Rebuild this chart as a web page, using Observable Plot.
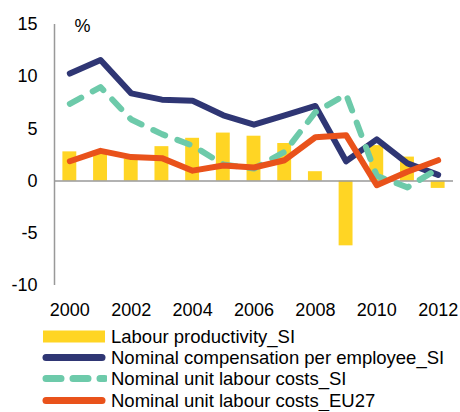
<!DOCTYPE html>
<html>
<head>
<meta charset="utf-8">
<script src="https://cdn.jsdelivr.net/npm/d3@7"></script>
<script src="https://cdn.jsdelivr.net/npm/@observablehq/plot@0.6"></script>
<style>
  html, body { margin: 0; padding: 0; background: #fff; }
  body { width: 460px; font-family: "Liberation Sans", Arial, sans-serif; color: #000; }
  #legend { margin-top: 4px; }
  .row { display: flex; align-items: center; height: 21.2px; }
  .row svg { margin-left: 41px; margin-right: 4px; flex: none; }
  .row span { font-size: 18.5px; line-height: 21px; white-space: nowrap; }
</style>
</head>
<body>
<div id="chart"></div>
<div id="legend"></div>
<script>
const years = [2000, 2001, 2002, 2003, 2004, 2005, 2006, 2007, 2008, 2009, 2010, 2011, 2012];
const labourProductivitySI = [2.8, 2.6, 2.1, 3.3, 4.1, 4.6, 4.3, 3.6, 0.9, -6.2, 3.4, 2.3, -0.7];
const nominalCompensationSI = [10.3, 11.6, 8.4, 7.8, 7.7, 6.3, 5.4, 6.3, 7.2, 1.9, 4.0, 1.7, 0.6];
const nominalULCSI = [7.4, 9.0, 5.9, 4.5, 3.4, 1.6, 1.2, 2.8, 6.6, 8.3, 0.5, -0.6, 1.2];
const nominalULCEU27 = [1.9, 2.9, 2.3, 2.2, 1.0, 1.5, 1.3, 2.0, 4.2, 4.4, -0.4, 0.9, 2.0];
const xTicks = [2000, 2002, 2004, 2006, 2008, 2010, 2012];
const yTicks = [-10, -5, 0, 5, 10, 15];
const seriesNames = ["Labour productivity_SI", "Nominal compensation per employee_SI", "Nominal unit labour costs_SI", "Nominal unit labour costs_EU27"];

const colors = { prod: "#FFD524", comp: "#2F3674", ulcSI: "#6DCAAA", eu: "#E9521B" };

const rows = years.map((year, i) => ({
  year,
  prod: labourProductivitySI[i],
  comp: nominalCompensationSI[i],
  ulcSI: nominalULCSI[i],
  eu: nominalULCEU27[i]
}));

const xDomain = [years[0] - 0.5, years[years.length - 1] + 0.5];
const yDomain = [yTicks[0], yTicks[yTicks.length - 1]];

const plot = Plot.plot({
  width: 460,
  height: 322,
  marginLeft: 54,
  marginRight: 7,
  marginTop: 24,
  marginBottom: 37,
  style: { fontFamily: "'Liberation Sans', Arial, sans-serif", fontSize: "18px", color: "#000", background: "#fff" },
  x: { domain: xDomain, ticks: xTicks, tickFormat: d => String(d), tickSize: 0, tickPadding: 18, label: null },
  y: { domain: yDomain, ticks: yTicks, tickSize: 0, tickPadding: 17, label: null, tickFormat: d => String(d) },
  marks: [
    Plot.rectY(rows, { x1: d => d.year - 0.5, x2: d => d.year + 0.5, y1: 0, y2: "prod", fill: colors.prod, insetLeft: 8.4, insetRight: 8.4 }),
    Plot.ruleY([0], { stroke: "#999", strokeWidth: 1.5 }),
    Plot.ruleX([xDomain[0]], { y1: yDomain[0], y2: yDomain[1], stroke: "#999", strokeWidth: 1.5 }),
    Plot.line(rows, { x: "year", y: "comp", stroke: colors.comp, strokeWidth: 6, strokeLinejoin: "round", strokeLinecap: "round" }),
    Plot.line(rows, { x: "year", y: "ulcSI", stroke: colors.ulcSI, strokeWidth: 6, strokeLinejoin: "round", strokeLinecap: "round", strokeDasharray: "13,13" }),
    Plot.line(rows, { x: "year", y: "eu", stroke: colors.eu, strokeWidth: 6, strokeLinejoin: "round", strokeLinecap: "round" }),
    Plot.text(["%"], { frameAnchor: "top-left", dx: 20, dy: 2, lineAnchor: "middle", textAnchor: "start", fontSize: 18, fill: "#000" })
  ]
});
document.getElementById("chart").appendChild(plot);

const legend = document.getElementById("legend");
const swatches = [
  `<rect x="2" y="4.5" width="62" height="12" fill="${colors.prod}"/>`,
  `<line x1="5" y1="10.5" x2="61" y2="10.5" stroke="${colors.comp}" stroke-width="7" stroke-linecap="round"/>`,
  `<line x1="5" y1="10.5" x2="64" y2="10.5" stroke="${colors.ulcSI}" stroke-width="7" stroke-linecap="round" stroke-dasharray="15,12"/>`,
  `<line x1="5" y1="10.5" x2="61" y2="10.5" stroke="${colors.eu}" stroke-width="7" stroke-linecap="round"/>`
];
seriesNames.forEach((name, i) => {
  const row = document.createElement("div");
  row.className = "row";
  row.innerHTML = `<svg width="66" height="21" viewBox="0 0 66 21">${swatches[i]}</svg><span>${name}</span>`;
  legend.appendChild(row);
});
</script>
</body>
</html>
